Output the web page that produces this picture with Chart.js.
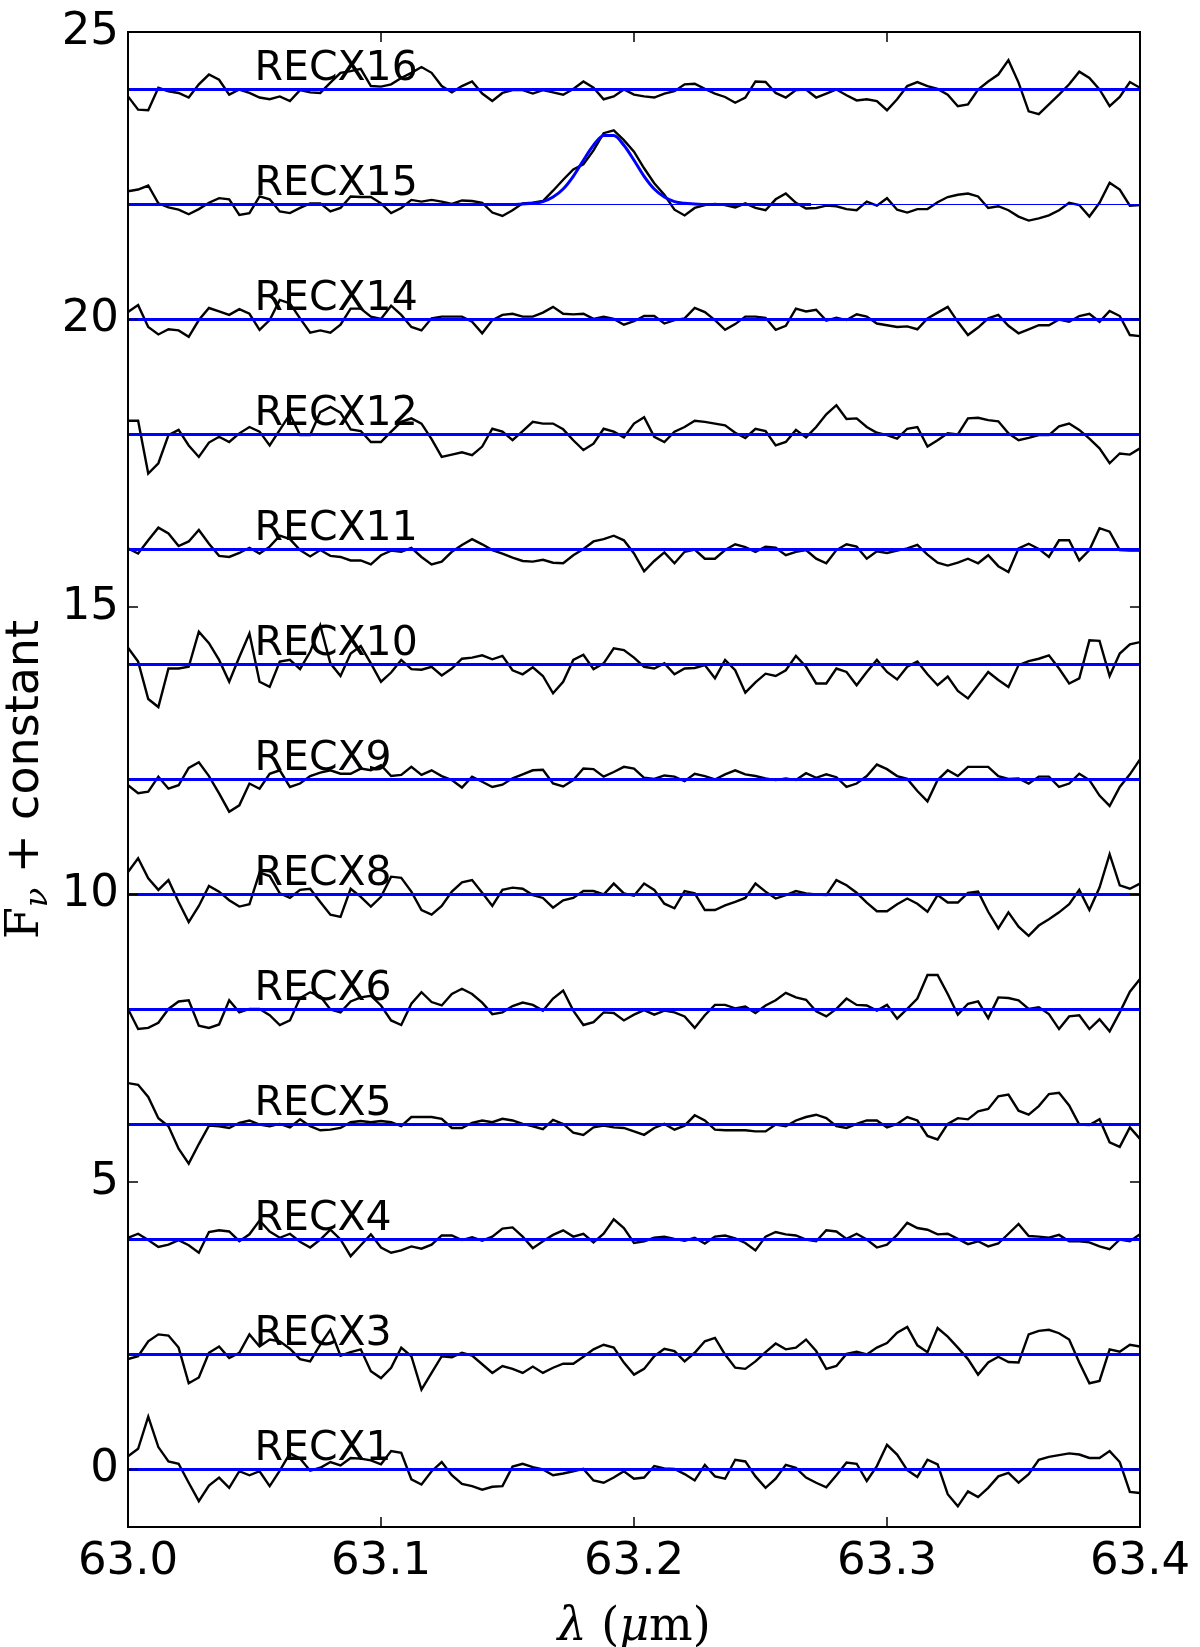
<!DOCTYPE html>
<html>
<head>
<meta charset="utf-8">
<script src="https://cdn.jsdelivr.net/npm/chart.js@4.4.0/dist/chart.umd.min.js"></script>
<style>
body{margin:0;background:#fff}
#grafico{display:block}
</style>
</head>
<body>
<canvas id="grafico" width="1200" height="1647"></canvas>
<script>
// wavelength grid (micron)
const lambdas = [
63.000,63.004,63.008,63.012,63.016,63.020,63.024,63.028,63.032,63.036,
63.040,63.044,63.048,63.052,63.056,63.060,63.064,63.068,63.072,63.076,
63.080,63.084,63.088,63.092,63.096,63.100,63.104,63.108,63.112,63.116,
63.120,63.124,63.128,63.132,63.136,63.140,63.144,63.148,63.152,63.156,
63.160,63.164,63.168,63.172,63.176,63.180,63.184,63.188,63.192,63.196,
63.200,63.204,63.208,63.212,63.216,63.220,63.224,63.228,63.232,63.236,
63.240,63.244,63.248,63.252,63.256,63.260,63.264,63.268,63.272,63.276,
63.280,63.284,63.288,63.292,63.296,63.300,63.304,63.308,63.312,63.316,
63.320,63.324,63.328,63.332,63.336,63.340,63.344,63.348,63.352,63.356,
63.360,63.364,63.368,63.372,63.376,63.380,63.384,63.388,63.392,63.396,
63.400]

const names = ['RECX1','RECX3','RECX4','RECX5','RECX6','RECX8','RECX9','RECX10','RECX11','RECX12','RECX14','RECX15','RECX16']
const offsets = [0,2,4,6,8,10,12,14,16,18,20,22,24]

// flux minus constant, one value per wavelength
const recx1 = [0.23,0.36,0.92,0.39,0.14,0.1,-0.23,-0.55,-0.28,-0.14,
-0.32,-0.03,-0.1,-0.03,-0.29,-0.02,0.28,0.19,-0.02,0.03,
0.13,0.07,0.2,0.19,0.16,0.09,0.32,0.29,-0.17,-0.26,
-0.03,0.13,-0.1,-0.25,-0.29,-0.35,-0.3,-0.29,0.05,0.1,
0.04,0,-0.1,-0.07,-0.03,0.01,-0.19,-0.23,-0.14,-0.03,
-0.16,-0.14,0.06,0.02,0.01,-0.08,-0.19,0.08,-0.12,-0.16,
0.17,0.14,-0.12,-0.32,-0.16,0.08,0.03,-0.14,-0.23,-0.31,
-0.1,0.12,0.1,-0.2,0.06,0.43,0.26,-0.01,-0.13,0.17,
0.09,-0.43,-0.64,-0.38,-0.48,-0.32,-0.12,-0.06,-0.23,-0.08,
0.17,0.22,0.25,0.28,0.26,0.2,0.2,0.32,0.13,-0.39,
-0.41]
const recx3 = [-0.08,-0.03,0.23,0.35,0.33,0.12,-0.5,-0.4,0.03,0.14,
-0.06,0.03,0.35,0.14,0.26,0.23,0.1,-0.08,-0.12,0.17,
0.43,-0.02,0.04,0.09,-0.29,-0.41,-0.23,0.12,-0.03,-0.61,
-0.32,-0.03,-0.05,0.03,-0.02,-0.17,-0.32,-0.2,-0.25,-0.32,
-0.21,-0.32,-0.23,-0.16,-0.16,-0.04,0.09,0.17,0.12,-0.14,
-0.35,-0.25,-0.03,0.1,0.06,-0.12,0.03,0.23,0.29,0,
-0.23,-0.25,-0.12,0.04,0.19,0.09,0.12,0.26,0.06,-0.25,
-0.2,0.01,0.05,0,0.12,0.2,0.38,0.48,0.16,0.04,
0.46,0.31,0.12,-0.08,-0.35,-0.14,-0.04,-0.13,-0.14,0.35,
0.41,0.43,0.37,0.26,-0.14,-0.5,-0.46,0.09,0.05,0.17,
0.14]
const recx4 = [0.03,0.1,-0.01,-0.13,-0.09,-0.01,-0.1,-0.23,0.13,0.16,
0.14,-0.03,0.09,0.33,0.14,0.03,0.1,-0.04,-0.14,0,
0.17,0,-0.29,-0.1,0.09,-0.14,-0.23,-0.19,-0.12,-0.16,
-0.09,0.07,0.07,-0.01,0.04,-0.02,0.05,0.19,0.21,0.05,
-0.15,-0.03,0.08,0.16,0.05,0.1,-0.05,0.1,0.35,0.2,
-0.06,-0.03,0.03,0.05,0.01,-0.02,0.03,-0.07,0.05,0.07,
0.02,-0.06,-0.19,0.05,0.13,0.09,0.07,0,-0.03,0.16,
0.14,0.01,0.1,0,-0.14,-0.09,0.08,0.29,0.2,0.17,
0.09,0.1,0.01,-0.08,-0.03,-0.12,-0.07,0.1,0.27,0.06,
0.05,0.03,0.08,-0.03,-0.03,-0.05,-0.12,-0.17,0,-0.03,
0.09]
const recx5 = [0.72,0.69,0.48,0.11,-0.03,-0.42,-0.68,-0.34,-0.02,-0.03,
-0.06,0.03,0.07,0,-0.03,0.01,-0.05,0.09,-0.03,-0.1,
-0.09,-0.06,0.04,0.06,0.04,0.06,0.04,-0.03,0.13,0.13,
0.13,0.1,-0.06,-0.06,0.03,0.07,0.04,0.1,0.07,0.01,
-0.03,-0.08,0.08,0.01,-0.14,-0.18,-0.05,-0.02,-0.05,-0.06,
-0.12,-0.18,-0.06,0.01,-0.09,-0.02,0.16,0.07,-0.09,-0.1,
-0.1,-0.1,-0.12,-0.12,0,-0.03,0.07,0.13,0.17,0.11,
-0.03,-0.06,0.01,0.07,0.07,-0.05,0.01,0.13,0.07,-0.2,
-0.26,0.01,0.11,0.09,0.23,0.27,0.49,0.52,0.24,0.17,
0.32,0.53,0.55,0.33,0,-0.01,0.09,-0.31,-0.39,-0.05,
-0.25]
const recx6 = [0.01,-0.34,-0.32,-0.23,0.01,0.14,0.16,-0.28,-0.32,-0.26,
0.16,-0.05,0.01,0.01,-0.1,-0.27,-0.19,0.2,0.3,0.23,
0,-0.05,0.14,0.21,0.24,0.07,-0.19,-0.27,0.1,0.3,
0.13,0.07,0.27,0.36,0.27,0.12,-0.08,-0.05,0.06,0.12,
0.08,-0.02,0.19,0.33,-0.02,-0.27,-0.22,-0.05,-0.06,-0.19,
-0.09,-0.01,-0.09,-0.02,-0.05,-0.12,-0.32,-0.1,0.08,0.08,
0.02,0.05,-0.06,0.07,0.16,0.29,0.21,0.17,-0.03,-0.12,
0.01,0.19,0.08,0.07,-0.02,0.08,-0.16,0.01,0.19,0.6,
0.6,0.27,-0.09,0.1,0.14,-0.15,0.21,0.2,0.16,0.01,
0.04,-0.08,-0.34,-0.12,-0.1,-0.34,-0.17,-0.38,-0.05,0.31,
0.53]
const recx8 = [0.39,0.63,0.28,0.08,0.25,-0.13,-0.48,-0.2,0.15,0.05,
-0.1,-0.21,-0.17,0.38,0.32,0.02,-0.06,0.08,0.1,-0.13,
-0.35,-0.39,0.1,-0.04,-0.21,-0.04,0.31,0.29,0.05,-0.27,
-0.35,-0.2,0.05,0.21,0.25,0.03,-0.2,0.08,0.12,0.1,
-0.01,-0.06,-0.23,-0.1,-0.06,0.06,0.06,0,0.19,0.02,
-0.02,0.19,0.08,-0.16,-0.24,0.06,0.02,-0.27,-0.27,-0.19,
-0.13,-0.06,0.19,0.05,-0.07,-0.01,0.06,0.02,0,-0.01,
0.25,0.16,0.03,-0.14,-0.29,-0.29,-0.17,-0.07,-0.16,-0.3,
-0.01,-0.14,-0.14,0.03,0.05,-0.3,-0.59,-0.31,-0.56,-0.72,
-0.54,-0.43,-0.31,-0.17,0.08,-0.27,0.12,0.7,0.16,0.1,
0.19]
const recx9 = [-0.1,-0.24,-0.21,0.05,-0.16,-0.1,0.2,0.3,0.06,-0.24,
-0.56,-0.45,-0.07,-0.16,0.1,0.16,-0.13,-0.07,0.06,0.12,
0.16,0.1,0.1,0.19,0.16,0.25,0.06,0.08,0.22,0.08,
0.16,0.06,-0.01,-0.14,0.05,-0.04,-0.13,-0.09,0.02,0.09,
0.16,0.17,-0.07,-0.12,-0.01,0.19,0.18,0.05,0.13,0.22,
0.19,0.03,0.01,0.07,0.05,-0.03,0.1,0.06,0,0.09,
0.16,0.09,0.06,0.02,-0.01,0.02,-0.01,0.11,0.03,0.09,
0.04,-0.13,-0.07,0.06,0.26,0.18,0.06,0.01,-0.2,-0.38,
-0.01,0.16,0.06,0.22,0.22,0.22,0.06,0.01,0.02,-0.07,
0.05,0.05,-0.13,-0.07,0.1,-0.01,-0.28,-0.46,-0.13,0.09,
0.35]
const recx10 = [0.29,0.05,-0.6,-0.74,-0.07,-0.07,-0.04,0.57,0.37,0.08,
-0.3,0.13,0.54,-0.3,-0.39,0.05,0.08,-0.08,0.22,0.68,
0.02,-0.2,0.19,0.32,0.02,-0.3,-0.14,0.08,-0.08,-0.09,
-0.04,-0.19,-0.07,0.1,0.12,0.16,0.09,0.15,-0.1,-0.17,
-0.05,-0.2,-0.5,-0.3,0.08,0.17,-0.08,0.02,0.28,0.25,
0.12,-0.04,-0.07,0.02,-0.17,-0.07,-0.06,-0.01,-0.24,0.08,
-0.1,-0.49,-0.31,-0.16,-0.2,-0.1,0.15,-0.04,-0.33,-0.33,
-0.07,-0.13,-0.36,-0.13,0.08,-0.13,-0.26,-0.04,0.05,-0.17,
-0.36,-0.21,-0.46,-0.59,-0.36,-0.13,-0.27,-0.39,-0.01,0.06,
0.1,0.16,-0.07,-0.33,-0.24,0.42,0.41,-0.2,0.19,0.35,
0.39]
const recx11 = [0.02,-0.07,0.16,0.38,0.28,0.06,0.14,0.34,0.1,-0.11,
-0.13,-0.06,0.03,-0.07,0.05,0.24,0.18,-0.01,-0.12,-0.01,
-0.11,-0.13,-0.19,-0.19,-0.26,-0.1,-0.02,-0.04,0.03,-0.13,
-0.26,-0.21,-0.04,0.08,0.18,0.09,-0.01,-0.07,-0.14,-0.2,
-0.21,-0.18,-0.23,-0.24,-0.1,0.01,0.14,0.18,0.24,0.16,
-0.07,-0.38,-0.2,-0.05,-0.24,-0.04,0,-0.16,-0.16,-0.01,
0.09,0.04,-0.04,0.05,0.03,-0.1,-0.04,-0.01,-0.16,-0.24,
-0.01,0.09,0.05,-0.16,-0.03,-0.06,-0.02,0.02,0.08,-0.09,
-0.23,-0.28,-0.23,-0.16,-0.24,-0.1,-0.29,-0.39,0.02,0.1,
0.01,-0.13,0.16,0.16,-0.19,-0.01,0.37,0.31,-0.01,-0.02,
-0.02]
const recx12 = [0.24,0.24,-0.68,-0.5,-0.01,0.08,-0.19,-0.39,-0.14,-0.04,
-0.13,0.02,0.13,0.05,-0.19,0.08,0.35,-0.01,-0.01,0.39,
0.48,0.38,0.09,0.06,-0.13,-0.13,0.05,0.22,0.28,0.19,
-0.08,-0.39,-0.35,-0.31,-0.36,-0.21,0.1,0.05,-0.1,0.06,
0.22,0.19,0.19,0.09,-0.1,-0.27,-0.16,0.1,0.05,-0.05,
0.19,0.3,-0.04,-0.13,0.05,0.13,0.24,0.22,0.19,0.16,
0.03,-0.06,0.1,0.06,-0.19,-0.13,0.08,-0.05,0.13,0.35,
0.51,0.27,0.28,0.13,0.03,-0.01,-0.07,0.1,0.13,-0.21,
-0.1,0.02,0,0.28,0.29,0.25,0.23,0.02,-0.1,-0.06,
-0.01,-0.01,0.14,0.19,0.08,-0.07,-0.24,-0.5,-0.33,-0.35,
-0.24]
const recx14 = [0.13,0.25,-0.13,-0.26,-0.17,-0.19,-0.3,-0.01,0.2,0.14,
0.08,0.18,0.1,-0.18,-0.01,0.34,0.28,0.02,-0.23,-0.19,
-0.23,-0.09,0.19,0.19,0.05,0.01,0.24,0.08,-0.13,-0.19,
0.02,0.05,0.05,0.05,-0.04,-0.24,-0.01,0.08,0.1,0.05,
0.05,0.12,0.22,0.1,0.09,0.1,0.01,0.05,0.01,-0.09,
-0.03,0.06,0.06,-0.07,-0.01,0.02,0.2,0.13,-0.01,-0.18,
-0.08,0.05,0.05,0.03,-0.18,-0.11,0.19,0.14,0.17,-0.02,
0.03,-0.01,0.09,0.05,-0.07,-0.1,-0.13,-0.12,-0.17,0.02,
0.12,0.22,-0.04,-0.27,-0.14,0.02,0.08,-0.11,-0.24,-0.17,
-0.1,-0.1,0,-0.04,0.06,0.1,-0.04,0.15,0.06,-0.27,
-0.29]
const recx15 = [0.23,0.26,0.33,0.02,-0.05,-0.09,-0.17,-0.08,0.03,0.11,
0.09,-0.18,-0.15,0.14,0.09,-0.12,-0.15,-0.06,0.02,0.02,
-0.12,-0.06,0.14,0.13,0.13,0.02,-0.15,-0.06,0.08,0.05,
0.08,0.05,0.01,0.07,0.06,0.03,-0.14,-0.2,-0.1,0.02,
0.03,0.06,0.24,0.43,0.61,0.7,0.94,1.24,1.29,1.12,
0.92,0.63,0.37,0.17,-0.09,-0.19,-0.06,-0.01,0.01,-0.01,
-0.05,0.02,-0.06,-0.1,0.09,0.19,0.03,-0.07,-0.06,-0.02,
-0.03,-0.08,-0.1,0.05,-0.02,0.11,-0.09,-0.14,-0.08,-0.08,
0.04,0.13,0.17,0.19,0.14,-0.06,-0.03,-0.1,-0.21,-0.28,
-0.24,-0.19,-0.1,0.03,-0.01,-0.21,0.03,0.38,0.26,-0.02,
-0.01]
const recx16 = [-0.12,-0.35,-0.36,0.03,-0.03,-0.06,-0.14,0.09,0.26,0.17,
-0.09,0,-0.06,-0.14,-0.17,-0.12,-0.2,-0.01,-0.05,-0.06,
0.12,0.29,0.32,0.36,0.06,0.05,0.09,0.2,0.29,0.39,
0.29,0.06,-0.05,0.06,0.14,-0.07,-0.2,-0.06,-0.01,-0.01,
-0.07,-0.01,-0.05,-0.09,0.01,0.14,0.03,-0.17,-0.12,0,
-0.09,-0.12,-0.14,-0.07,-0.03,0.09,0.1,0.01,-0.07,-0.13,
-0.23,-0.14,0.14,0.13,-0.06,-0.14,-0.01,0,-0.14,-0.07,
0,-0.1,-0.19,-0.17,-0.2,-0.36,-0.17,0.06,0.13,0.06,
0.01,-0.09,-0.29,-0.26,0,0.14,0.26,0.51,0.12,-0.38,
-0.43,-0.26,-0.09,0.09,0.31,0.2,0,-0.29,-0.13,0.13,
0.03]
const spectra = [recx1,recx3,recx4,recx5,recx6,recx8,recx9,recx10,recx11,recx12,recx14,recx15,recx16]

// gaussian fit drawn over RECX15
const fitX = [63.0,63.152,63.156,63.16,63.164,63.168,63.172,63.176,63.18,63.184,63.188,
  63.192,63.196,63.2,63.204,63.208,63.212,63.216,63.22,63.224,63.228,63.27]
const fitY = [0,0,0.01,0.02,0.05,0.13,0.27,0.49,0.77,1.03,1.2,
  1.2,1.03,0.77,0.49,0.27,0.13,0.05,0.02,0.01,0,0]

const xTicks = [63.0,63.1,63.2,63.3,63.4]
const yTicks = [0,5,10,15,20,25]
const labelX = 63.05
const labelDy = 0.17

const datasets = []
spectra.forEach((serie, k) => {
    datasets.push({
        data: lambdas.map((w, i) => ({x: w, y: offsets[k] + serie[i]})),
        borderColor: '#000000',
        borderWidth: 2.4,
        pointRadius: 0,
        tension: 0,
        order: 1
    })
})
offsets.forEach((off, k) => {
    const conAjuste = names[k] === 'RECX15'
    datasets.push({
        data: [{x: 63.0, y: off}, {x: 63.4, y: off}],
        borderColor: '#0000ff',
        borderWidth: conAjuste ? 1.2 : 3,
        pointRadius: 0,
        order: 0
    })
})
const offAjuste = offsets[names.indexOf('RECX15')]
datasets.push({
    data: fitX.map((w, i) => ({x: w, y: offAjuste + fitY[i]})),
    borderColor: '#0000ff',
    borderWidth: 3,
    pointRadius: 0,
    cubicInterpolationMode: 'monotone',
    order: 0
})

function dibujarTrozos(ctx, trozos, x, y){
    let total = 0
    trozos.forEach(t => { ctx.font = t.font; total += ctx.measureText(t.text).width })
    let pos = x - total / 2
    trozos.forEach(t => {
        ctx.font = t.font
        ctx.fillText(t.text, pos, y + (t.dy || 0))
        pos += ctx.measureText(t.text).width
    })
}

const extras = {
    id: 'extras',
    afterDatasetsDraw(chart){
        const {ctx, chartArea: a, scales} = chart
        const sx = scales.x, sy = scales.y
        ctx.save()
        ctx.fillStyle = '#000'
        ctx.textAlign = 'left'
        ctx.textBaseline = 'alphabetic'
        ctx.font = '41px "DejaVu Sans"'
        names.forEach((n, k) => {
            ctx.fillText(n, sx.getPixelForValue(labelX), sy.getPixelForValue(offsets[k] + labelDy))
        })

        ctx.strokeStyle = '#000'
        ctx.lineWidth = 2
        ctx.strokeRect(a.left, a.top, a.right - a.left, a.bottom - a.top)
        ctx.lineWidth = 1.5
        ctx.beginPath()
        xTicks.forEach(v => {
            const px = sx.getPixelForValue(v)
            ctx.moveTo(px, a.bottom); ctx.lineTo(px, a.bottom - 10)
            ctx.moveTo(px, a.top); ctx.lineTo(px, a.top + 10)
        })
        yTicks.forEach(v => {
            const py = sy.getPixelForValue(v)
            ctx.moveTo(a.left, py); ctx.lineTo(a.left + 10, py)
            ctx.moveTo(a.right, py); ctx.lineTo(a.right - 10, py)
        })
        ctx.stroke()

        // axis titles
        const cx = (a.left + a.right) / 2
        dibujarTrozos(ctx, [
            {text: 'λ', font: 'italic 46px "DejaVu Serif"'},
            {text: ' (', font: '46px "DejaVu Serif"'},
            {text: 'μ', font: 'italic 46px "DejaVu Serif"'},
            {text: 'm)', font: '46px "DejaVu Serif"'}
        ], cx, 1640)

        const cy = (a.top + a.bottom) / 2
        ctx.translate(38, cy)
        ctx.rotate(-Math.PI / 2)
        dibujarTrozos(ctx, [
            {text: 'F', font: '46px "DejaVu Serif"'},
            {text: 'ν', font: 'italic 32px "DejaVu Serif"', dy: 9},
            {text: ' + constant', font: '46px "DejaVu Sans"'}
        ], 0, 0)
        ctx.restore()
    }
}

const contexto = document.getElementById('grafico').getContext('2d')
const grafico = new Chart(contexto, {
    type: 'line',
    data: {datasets: datasets},
    plugins: [extras],
    options: {
        responsive: false,
        animation: false,
        events: [],
        layout: {padding: {top: 32, right: 60, left: 0, bottom: 0}},
        plugins: {legend: {display: false}, tooltip: {enabled: false}},
        scales: {
            x: {
                type: 'linear',
                min: 63.0,
                max: 63.4,
                grid: {display: false, drawTicks: false},
                border: {display: false},
                afterBuildTicks: s => { s.ticks = xTicks.map(v => ({value: v})) },
                afterFit: s => { s.height = 120; s.paddingLeft = 0; s.paddingRight = 0 },
                ticks: {
                    color: '#000',
                    font: {family: 'DejaVu Sans', size: 45},
                    padding: 8,
                    maxRotation: 0,
                    autoSkip: false,
                    callback: v => v.toFixed(1)
                }
            },
            y: {
                type: 'linear',
                min: -1,
                max: 25,
                grid: {display: false, drawTicks: false},
                border: {display: false},
                afterBuildTicks: s => { s.ticks = yTicks.map(v => ({value: v})) },
                afterFit: s => { s.width = 128; s.paddingTop = 0; s.paddingBottom = 0 },
                ticks: {
                    color: '#000',
                    font: {family: 'DejaVu Sans', size: 45},
                    padding: 9,
                    autoSkip: false,
                    callback: v => String(v)
                }
            }
        }
    }
})
</script>
</body>
</html>
